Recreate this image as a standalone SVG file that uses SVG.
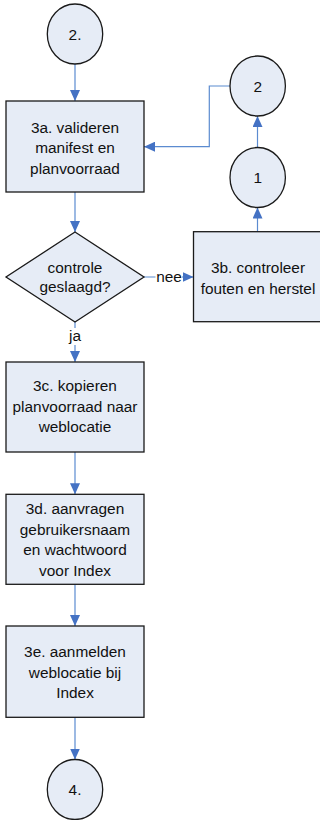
<svg xmlns="http://www.w3.org/2000/svg" width="320" height="820" viewBox="0 0 320 820">
<defs>
<marker id="arr" markerUnits="userSpaceOnUse" markerWidth="12" markerHeight="10" refX="11" refY="5" orient="auto">
<path d="M0,0 L11,5 L0,10 z" fill="#4472C4"/>
</marker>
<style>
.shape{fill:#E6ECF6;stroke:#1a1a1a;stroke-width:1.3}
.t{font-family:"Liberation Sans",Arial,sans-serif;font-size:15.4px;fill:#111;text-anchor:middle}
.c{fill:none;stroke:#5B8BD0;stroke-width:1.2}
.lbl{fill:#fff}
</style>
</defs>
<rect width="320" height="820" fill="#fff"/>
<g id="connectors">
<path class="c" d="M75,64 V101" marker-end="url(#arr)"/>
<path class="c" d="M75,192 V232" marker-end="url(#arr)"/>
<path class="c" d="M144,277 H193.5" marker-end="url(#arr)"/>
<path class="c" d="M75,322 V362" marker-end="url(#arr)"/>
<path class="c" d="M75,452 V494.3" marker-end="url(#arr)"/>
<path class="c" d="M75,584.3 V626" marker-end="url(#arr)"/>
<path class="c" d="M75,717.3 V759.5" marker-end="url(#arr)"/>
<path class="c" d="M257.5,231.7 V207.5" marker-end="url(#arr)"/>
<path class="c" d="M257.5,147.5 V116" marker-end="url(#arr)"/>
<path class="c" d="M230,86 H209.3 V146.7 H144" marker-end="url(#arr)"/>
<rect class="lbl" x="155.5" y="268" width="26.5" height="16"/>
<text class="t" x="169" y="281.7">nee</text>
<rect class="lbl" x="66" y="328" width="18" height="17"/>
<text class="t" x="75" y="340.7">ja</text>
</g>
<g id="n2dot">
<ellipse class="shape" cx="75" cy="34" rx="27.7" ry="30"/>
<text class="t" x="75" y="39.5">2.</text>
</g>
<g id="n3a">
<rect class="shape" x="6" y="101" width="138" height="91"/>
<text class="t" x="75" y="132.5">3a. valideren</text>
<text class="t" x="75" y="153">manifest en</text>
<text class="t" x="75" y="173.5">planvoorraad</text>
</g>
<g id="n2">
<ellipse class="shape" cx="257.7" cy="86" rx="27.7" ry="30"/>
<text class="t" x="257.7" y="91.5">2</text>
</g>
<g id="n1">
<ellipse class="shape" cx="257.7" cy="177.5" rx="27.7" ry="30"/>
<text class="t" x="257.7" y="183">1</text>
</g>
<g id="decision">
<polygon class="shape" points="75,232 144,277 75,322 6,277"/>
<text class="t" x="75" y="272.5">controle</text>
<text class="t" x="75" y="292.3">geslaagd?</text>
</g>
<g id="n3b">
<rect class="shape" x="193.5" y="231.7" width="128" height="90"/>
<text class="t" x="258" y="273.3">3b. controleer</text>
<text class="t" x="258" y="294">fouten en herstel</text>
</g>
<g id="n3c">
<rect class="shape" x="6" y="362" width="138" height="90"/>
<text class="t" x="75" y="391">3c. kopieren</text>
<text class="t" x="75" y="412">planvoorraad naar</text>
<text class="t" x="75" y="432">weblocatie</text>
</g>
<g id="n3d">
<rect class="shape" x="6" y="494.3" width="138" height="90"/>
<text class="t" x="75" y="514">3d. aanvragen</text>
<text class="t" x="75" y="535">gebruikersnaam</text>
<text class="t" x="75" y="555">en wachtwoord</text>
<text class="t" x="75" y="575.5">voor Index</text>
</g>
<g id="n3e">
<rect class="shape" x="6" y="626" width="138" height="91.3"/>
<text class="t" x="75" y="657">3e. aanmelden</text>
<text class="t" x="75" y="678">weblocatie bij</text>
<text class="t" x="75" y="698">Index</text>
</g>
<g id="n4dot">
<ellipse class="shape" cx="75" cy="789.5" rx="27.7" ry="30"/>
<text class="t" x="75" y="795">4.</text>
</g>
</svg>
